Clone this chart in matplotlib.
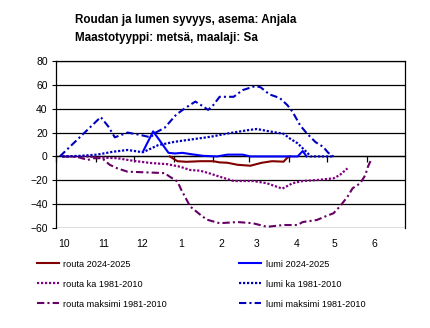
import matplotlib
matplotlib.use("Agg")
import matplotlib.pyplot as plt
import numpy as np

plt.rcParams['font.family'] = ['Liberation Sans', 'DejaVu Sans']

# x = päiviä 1.10. alkaen
month_labels = ["10", "11", "12", "1", "2", "3", "4", "5", "6"]
month_days = [31, 30, 31, 31, 28, 31, 30, 31, 30]

# routa 2024-2025
routa_x = [89, 95, 102, 113, 123, 128, 134, 142, 152, 161, 169, 178, 181, 183]
routa_y = [0, -4, -4.5, -4, -4, -5, -5.3, -7, -7.8, -5.3, -4, -4.4, -1, 0]

# lumi 2024-2025
lumi_x = [68, 76, 88, 93, 99, 105, 115, 126, 134, 146, 152, 189, 193, 196]
lumi_y = [4, 21, 3, 2.5, 3, 2, 0.5, 0, 1.5, 1.5, 0, 0, 4.5, 0]

# routa ka 1981-2010
routa_ka_x = [5, 24, 34, 48, 60, 74, 87, 97, 105, 113, 121, 128, 139, 154, 165,
              177, 185, 193, 204, 217, 222, 228]
routa_ka_y = [0, 0, -1, -1.5, -3.6, -5.5, -6.5, -8.6, -11.4, -12, -14.5, -17, -20.6,
              -20.6, -22.5, -27, -22.5, -20.6, -19.8, -18.4, -15.6, -10]

# lumi ka 1981-2010
lumi_ka_x = [5, 19, 32, 45, 56, 68, 80, 93, 111, 121, 136, 150, 157, 167, 178,
             183, 189, 193, 197, 199, 217]
lumi_ka_y = [0, 0.5, 1.5, 4, 5.4, 3.5, 9.5, 12.3, 15, 16.5, 19.6, 22, 23, 21, 19,
             15, 11, 6.8, 2.6, 0, 0]

# routa maksimi 1981-2010
routa_max_x = [5, 17, 25, 29, 36, 42, 48, 56, 74, 85, 89, 95, 98, 105, 113, 118,
               128, 142, 154, 165, 178, 189, 193, 204, 212, 217, 222, 228, 232,
               238, 242, 244, 247]
routa_max_y = [0, -0.5, -3, -1.5, -1.5, -7, -10, -12.8, -13.5, -14, -17, -21, -28,
               -42, -49, -53, -56, -55, -56, -59, -57.5, -57.5, -55, -53.3, -49.7,
               -47.7, -42, -33.8, -26.7, -22.5, -15.6, -8.6, -1.6]

# lumi maksimi 1981-2010
lumi_max_x = [3, 35, 41, 46, 56, 66, 74, 78, 85, 94, 101, 109, 115, 119, 123, 128,
              139, 146, 156, 160, 167, 175, 181, 185, 191, 196, 203, 209, 213, 217]
lumi_max_y = [0, 33, 25, 16, 20, 18, 16, 20, 24, 35, 40.5, 46, 42, 39, 43, 50, 50,
              55.6, 59, 58, 52, 49, 43, 37.5, 26, 19.6, 12, 8, 3, 0]

fig = plt.figure(figsize=(4.3, 3.28), dpi=100)
ax = fig.add_axes([56 / 430, 1 - 228 / 328, 349 / 430, 167 / 328])

dashdot = (0, (3.5, 1.5, 1, 1.5))
dotted = (0, (1, 0.8))

ax.plot(routa_x, routa_y, color='#800000', lw=1.5, label='routa 2024-2025', zorder=5)
ax.plot(routa_ka_x, routa_ka_y, color='#800080', lw=1.6, ls=dotted,
        label='routa ka 1981-2010', zorder=4)
ax.plot(routa_max_x, routa_max_y, color='#660066', lw=1.5, ls=dashdot,
        label='routa maksimi 1981-2010', zorder=4)
ax.plot(lumi_x, lumi_y, color='#0000FF', lw=1.5, label='lumi 2024-2025', zorder=5)
ax.plot(lumi_ka_x, lumi_ka_y, color='#0000C0', lw=1.6, ls=dotted,
        label='lumi ka 1981-2010', zorder=4)
ax.plot(lumi_max_x, lumi_max_y, color='#0000C0', lw=1.5, ls=dashdot,
        label='lumi maksimi 1981-2010', zorder=4)

month_start = np.concatenate([[0], np.cumsum(month_days)])
ax.set_xlim(0, month_start[-1])
ax.set_ylim(-60, 80)
ax.set_yticks(np.arange(-60, 81, 20))
ax.yaxis.grid(True, color='black', lw=0.9)
ax.set_axisbelow(True)
ax.tick_params(axis='y', length=3, width=0.8, labelsize=7.5, pad=3)

# kuukausiviivat nollatasolle
ax.spines['bottom'].set_position(('data', 0))
ax.set_xticks(month_start[:-1])
ax.set_xticklabels([])
ax.tick_params(axis='x', length=4, width=0.9, direction='out')
for s in ax.spines.values():
    s.set_linewidth(0.9)

sec = ax.secondary_xaxis(0)
sec.set_xticks(month_start[:-1] + 6)
sec.set_xticklabels(month_labels)
sec.tick_params(length=0, labelsize=7.5, pad=8)
sec.spines['bottom'].set_visible(False)

fig.text(75 / 430, 1 - 20 / 328, "Roudan ja lumen syvyys, asema: Anjala",
         fontsize=8.4, fontweight='bold', va='center', ha='left')
fig.text(75 / 430, 1 - 38 / 328, "Maastotyyppi: metsä, maalaji: Sa",
         fontsize=8.4, fontweight='bold', va='center', ha='left')

fig.legend(loc='upper left', bbox_to_anchor=(33 / 430, 1 - 256 / 328), ncol=2,
           frameon=False, fontsize=6.6, handlelength=2.4, handletextpad=0.5,
           columnspacing=7.9, labelspacing=1.2, borderaxespad=0)

fig.savefig("out.png", dpi=100)
